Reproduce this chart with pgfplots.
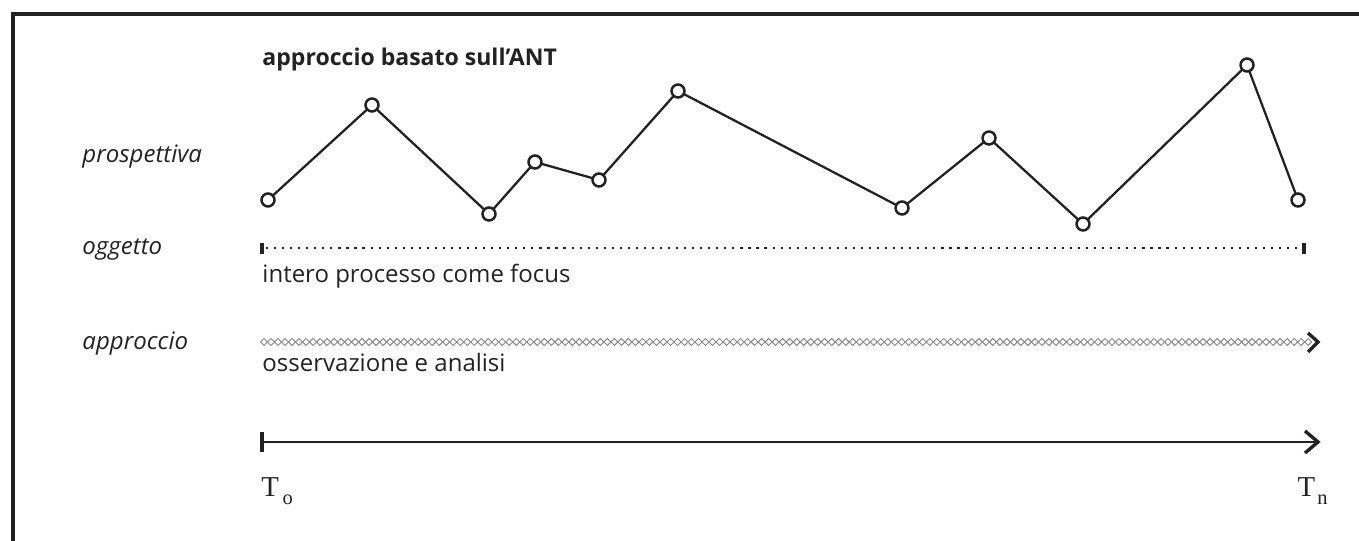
\documentclass[border=0pt]{standalone}
\usepackage{pgfplots}
\pgfplotsset{compat=1.18}
\usepackage{fontspec}
\setmainfont{Open Sans}
\newfontfamily\seriffont{Liberation Serif}
\usetikzlibrary{decorations.shapes,shapes.geometric}

\definecolor{ink}{HTML}{222222}
\definecolor{chain}{HTML}{8A8A8A}

\begin{document}
\begin{tikzpicture}
\begin{axis}[
  scale only axis, width=566.25pt, height=225.4pt,
  xmin=0, xmax=1359, ymin=0, ymax=541, y dir=reverse,
  hide axis, clip=false,
]
% frame (cut at right and bottom)
\draw[ink, line width=1.3pt] (axis cs:13,600) |- (axis cs:1420,14);

% prospettiva
\addplot[ink, line width=0.95pt, mark=*, mark size=2.7pt,
  mark options={fill=white, draw=ink, line width=1.05pt}] coordinates {
  (268,200) (372,105) (489,214) (535,162) (599,180) (678,91)
  (902,208) (989,138) (1083,224) (1247,65) (1298,200)
};

% oggetto
\addplot[ink, line width=0.9pt, dash pattern=on 0.9pt off 2.45pt] coordinates {(266,248) (1300,248)};
\addplot[ink, line width=1.3pt] coordinates {(262,243) (262,254)};
\addplot[ink, line width=1.3pt] coordinates {(1304,243) (1304,254)};

% approccio
\addplot[chain, line width=0.4pt, decorate,
  decoration={shape backgrounds, shape=diamond, shape width=2.9pt,
    shape height=2.9pt, shape sep=2.92pt}] coordinates {(264,342) (1312,342)};
\addplot[ink, line width=1.4pt, line join=miter] coordinates {(1308,333) (1318,342) (1308,352)};

% time axis
\addplot[ink, line width=1.1pt] coordinates {(262,442) (1316,442)};
\addplot[ink, line width=1.7pt] coordinates {(262,432) (262,452)};
\addplot[ink, line width=1.4pt, line join=miter] coordinates {(1305,431) (1318,442) (1305,453)};

% texts
\tikzset{lbl/.style={anchor=base west, text=ink, inner sep=0pt}}
\node[lbl, font=\bfseries\fontsize{9.6}{11}\selectfont] at (axis cs:262,66) {approccio basato sull’ANT};
\node[lbl, font=\itshape] at (axis cs:82,163) {prospettiva};
\node[lbl, font=\itshape] at (axis cs:82,255) {oggetto};
\node[lbl] at (axis cs:262,283) {intero processo come focus};
\node[lbl, font=\itshape] at (axis cs:82,350) {approccio};
\node[lbl] at (axis cs:262,372) {osservazione e analisi};
\node[lbl, font=\seriffont\fontsize{12}{14}\selectfont] at (axis cs:261,497) {T\hspace{1.5pt}\raisebox{-0.55ex}{\fontsize{8.5}{9}\selectfont o}};
\node[lbl, font=\seriffont\fontsize{12}{14}\selectfont] at (axis cs:1297,497) {T\hspace{1pt}\raisebox{-0.55ex}{\fontsize{8.5}{9}\selectfont n}};
\end{axis}
\pgfresetboundingbox
\path[use as bounding box] (current axis.south west) rectangle (current axis.north east);
\end{tikzpicture}
\end{document}
